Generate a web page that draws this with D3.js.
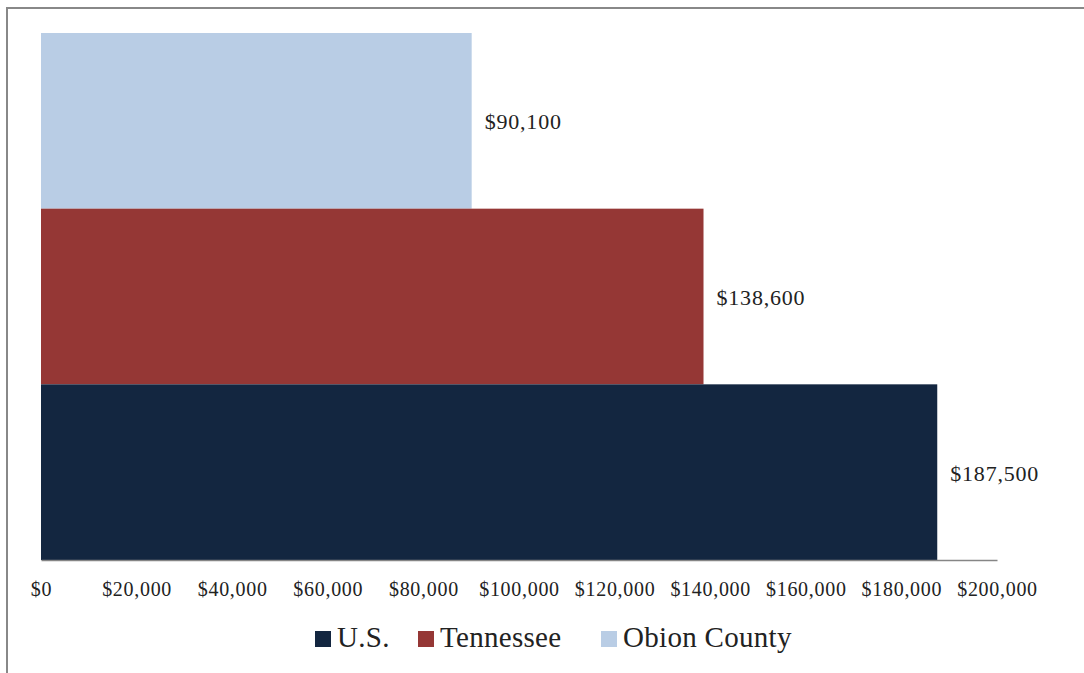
<!DOCTYPE html>
<html><head><meta charset="utf-8">
<script src="https://cdn.jsdelivr.net/npm/d3@7"></script>
<style>html,body{margin:0;padding:0;background:#fff;}svg{display:block;}</style>
</head><body>
<script>
const categories = ["Obion County", "Tennessee", "U.S."];
const values = [90100, 138600, 187500];
const colors = ["#B9CDE5", "#953735", "#132640"];
const legendOrder = ["U.S.", "Tennessee", "Obion County"];
const tickValues = [0, 20000, 40000, 60000, 80000, 100000, 120000, 140000, 160000, 180000, 200000];

const W = 1084, H = 673;
const font = "'Book Antiqua', Palatino, 'Palatino Linotype', 'Liberation Serif', 'DejaVu Serif', serif";
const svg = d3.select("body").append("svg").attr("width", W).attr("height", H);

// frame (top + left)
svg.append("line").attr("x1", 7).attr("x2", W).attr("y1", 8).attr("y2", 8).attr("stroke", "#888").attr("stroke-width", 2);
svg.append("line").attr("x1", 7).attr("x2", 7).attr("y1", 7).attr("y2", H).attr("stroke", "#888").attr("stroke-width", 2);

const x = d3.scaleLinear().domain([0, 200000]).range([41, 997]);
const y = d3.scaleBand().domain(categories).range([33, 560]).padding(0);

svg.selectAll("rect.bar").data(categories).enter().append("rect")
  .attr("class", "bar")
  .attr("x", x(0)).attr("y", d => y(d))
  .attr("width", (d, i) => x(values[i]) - x(0))
  .attr("height", y.bandwidth())
  .attr("fill", (d, i) => colors[i]);

svg.selectAll("text.lbl").data(categories).enter().append("text")
  .attr("class", "lbl")
  .attr("x", (d, i) => x(values[i]) + 13)
  .attr("y", d => y(d) + y.bandwidth() / 2)
  .attr("dy", "0.38em")
  .attr("font-family", font).attr("font-size", 22).attr("letter-spacing", 0.8).attr("fill", "#222")
  .text((d, i) => "$" + d3.format(",")(values[i]));

// axis
const axis = d3.axisBottom(x).tickValues(tickValues).tickSize(0).tickPadding(22)
  .tickFormat(d => "$" + d3.format(",")(d));
const g = svg.append("g").attr("transform", "translate(0,560)").call(axis);
g.select(".domain").attr("stroke", "#868686").attr("stroke-width", 1.3);
g.selectAll("text").attr("font-family", font).attr("font-size", 20).attr("letter-spacing", 0.7).attr("fill", "#222");

// legend
const legX = [315, 418, 601];
const lg = svg.append("g");
legendOrder.forEach((name, i) => {
  const ci = categories.indexOf(name);
  lg.append("rect").attr("x", legX[i]).attr("y", 631).attr("width", 16).attr("height", 16).attr("fill", colors[ci]);
  lg.append("text").attr("x", legX[i] + 22).attr("y", 647)
    .attr("font-family", font).attr("font-size", 29).attr("letter-spacing", 0.3).attr("fill", "#222").text(name);
});
</script>
</body></html>
